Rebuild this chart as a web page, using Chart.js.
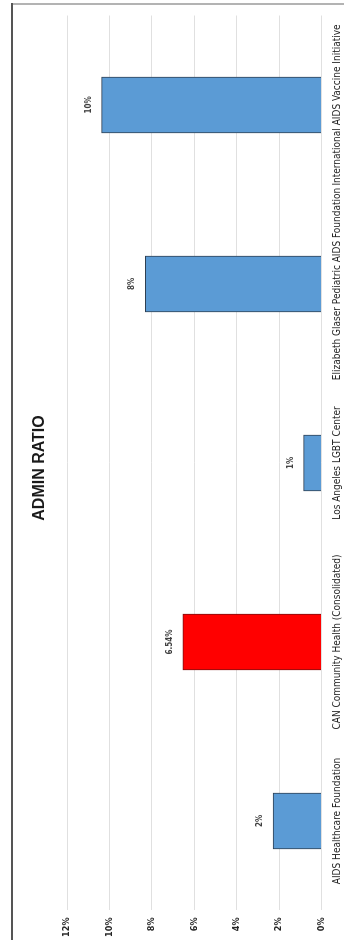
<!DOCTYPE html>
<html>
<head>
<meta charset="utf-8">
<script src="https://cdn.jsdelivr.net/npm/chart.js@4/dist/chart.umd.min.js"></script>
<style>
  html, body { margin: 0; padding: 0; background: #ffffff; overflow: hidden; }
  body { width: 344px; height: 940px; position: relative; }
  #wrap {
    position: absolute;
    width: 940px; height: 344px;
    left: -298px; top: 298px;
    transform: rotate(-90deg);
    transform-origin: 50% 50%;
    background: #ffffff;
  }
  canvas { display: block; }
</style>
</head>
<body>
<div id="wrap"><canvas id="c" width="940" height="344"></canvas></div>
<script>
// ---- data ----
const chartTitle = "ADMIN RATIO";
const categories = [
  "AIDS Healthcare Foundation",
  "CAN Community Health (Consolidated)",
  "Los Angeles LGBT Center",
  "Elizabeth Glaser Pediatric AIDS Foundation",
  "International AIDS Vaccine Initiative"
];
const adminRatio = [2.28, 6.54, 0.84, 8.31, 10.37];   // percent
const valueLabels = ["2%", "6.54%", "1%", "8%", "10%"];
const highlight = [false, true, false, false, false];
const tickValues = [0, 2, 4, 6, 8, 10, 12];

const FONT = "'Liberation Sans Narrow', 'DejaVu Sans Condensed', 'Liberation Sans', sans-serif";

const borderPlugin = {
  id: 'frame',
  beforeDraw(chart) {
    const ctx = chart.ctx;
    ctx.save();
    ctx.fillStyle = '#ffffff';
    ctx.fillRect(0, 0, chart.width, chart.height);
    ctx.strokeStyle = '#9a9a9a';
    ctx.lineWidth = 1.5;
    ctx.beginPath();
    ctx.moveTo(936, 400);
    ctx.lineTo(936, 12);
    ctx.stroke();
    ctx.strokeStyle = '#555555';
    ctx.lineWidth = 2;
    ctx.beginPath();
    ctx.moveTo(0, 12);
    ctx.lineTo(937, 12);
    ctx.stroke();
    ctx.restore();
  }
};

const labelPlugin = {
  id: 'valueLabels',
  afterDatasetsDraw(chart) {
    const ctx = chart.ctx;
    const meta = chart.getDatasetMeta(0);
    ctx.save();
    ctx.fillStyle = '#404040';
    ctx.font = "bold 8px " + FONT;
    ctx.textAlign = 'center';
    ctx.textBaseline = 'middle';
    meta.data.forEach((bar, i) => {
      ctx.fillText(valueLabels[i], bar.x, bar.y - 13);
    });
    // title
    ctx.fillStyle = '#1a1a1a';
    ctx.font = "bold 16px 'Liberation Sans', Arial, sans-serif";
    ctx.fillText(chartTitle, 472, 40);
    ctx.restore();
  }
};

new Chart(document.getElementById('c'), {
  type: 'bar',
  data: {
    labels: categories,
    datasets: [{
      data: adminRatio,
      backgroundColor: highlight.map(h => h ? '#ff0000' : '#5b9bd5'),
      borderColor: highlight.map(h => h ? '#7a1010' : '#2e3f52'),
      borderWidth: 1,
      borderSkipped: 'bottom',
      barThickness: 56
    }]
  },
  options: {
    responsive: false,
    animation: false,
    devicePixelRatio: 1,
    layout: { padding: { left: 0, right: 15.5, top: 67, bottom: 0 } },
    plugins: {
      legend: { display: false },
      title: { display: false },
      tooltip: { enabled: false }
    },
    scales: {
      x: {
        grid: { display: false, drawTicks: false },
        border: { display: false },
        ticks: {
          color: '#262626',
          font: { family: FONT, size: 10 },
          padding: 10,
          maxRotation: 0,
          autoSkip: false
        },
        afterFit(scale) { scale.height = 22.5; }
      },
      y: {
        min: 0,
        max: 12,
        afterBuildTicks(scale) { scale.ticks = tickValues.map(v => ({ value: v })); },
        grid: { color: '#e0e0e0', lineWidth: 1, drawTicks: false },
        border: { display: false },
        ticks: {
          color: '#262626',
          font: { family: FONT, size: 9, weight: 'bold' },
          padding: 7,
          callback: v => v + '%'
        },
        afterFit(scale) { scale.width = 29.5; }
      }
    }
  },
  plugins: [borderPlugin, labelPlugin]
});
</script>
</body>
</html>
